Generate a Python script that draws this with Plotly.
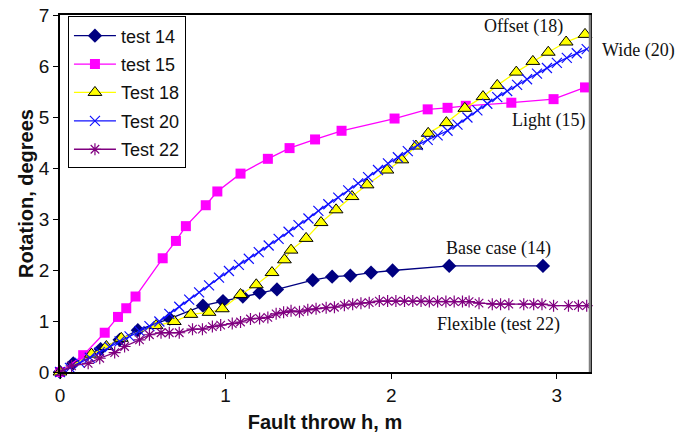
import plotly.graph_objects as go

# Fault throw h (m) and rotation (degrees) for each test
t14_x = [0, 0.08, 0.245, 0.36, 0.47, 0.663, 0.863, 0.984, 1.104, 1.205, 1.31, 1.526, 1.643, 1.753, 1.878, 2.008, 2.35, 2.916]
t14_y = [0, 0.17, 0.45, 0.63, 0.82, 1.045, 1.30, 1.39, 1.48, 1.555, 1.62, 1.80, 1.87, 1.89, 1.95, 1.99, 2.08, 2.08]

t15_x = [0, 0.14, 0.27, 0.35, 0.40, 0.456, 0.62, 0.70, 0.76, 0.88, 0.95, 1.09, 1.255, 1.386, 1.54, 1.70, 2.02, 2.22, 2.34, 2.45, 2.725, 2.98, 3.17]
t15_y = [0, 0.33, 0.77, 1.08, 1.25, 1.48, 2.23, 2.57, 2.86, 3.27, 3.54, 3.89, 4.18, 4.39, 4.56, 4.73, 4.97, 5.15, 5.18, 5.22, 5.28, 5.35, 5.58]

t18_x = [0, 0.19, 0.28, 0.37, 0.58, 0.69, 0.79, 0.90, 0.98, 1.09, 1.185, 1.28, 1.355, 1.395, 1.486, 1.576, 1.667, 1.763,
         1.854, 1.974, 2.064, 2.149, 2.223, 2.333, 2.444, 2.554, 2.64, 2.755, 2.855, 2.948, 3.056, 3.17]
t18_y = [0, 0.35, 0.50, 0.66, 0.91, 0.99, 1.13, 1.17, 1.24, 1.52, 1.71, 1.95, 2.20, 2.39, 2.62, 2.93, 3.18, 3.44,
         3.67, 3.96, 4.16, 4.43, 4.68, 4.89, 5.17, 5.40, 5.62, 5.88, 6.09, 6.27, 6.47, 6.62]

t20_x = [0, 0.06, 0.12, 0.18, 0.24, 0.30, 0.36, 0.42, 0.48, 0.54, 0.60, 0.66, 0.72, 0.78, 0.84, 0.90, 0.96, 1.02,
         1.08, 1.14, 1.20, 1.26, 1.32, 1.38, 1.44, 1.50, 1.56, 1.62, 1.68, 1.74, 1.80, 1.86, 1.92, 1.98, 2.04, 2.10,
         2.16, 2.22, 2.28, 2.34, 2.40, 2.46, 2.52, 2.58, 2.64, 2.70, 2.76, 2.82, 2.88, 2.94, 3.00, 3.06, 3.12, 3.18]
t20_y = [0, 0.08, 0.18, 0.28, 0.39, 0.49, 0.60, 0.70, 0.80, 0.90, 0.99, 1.14, 1.28, 1.42, 1.56, 1.70, 1.85, 1.98,
         2.10, 2.22, 2.35, 2.48, 2.61, 2.75, 2.88, 3.01, 3.16, 3.29, 3.42, 3.56, 3.70, 3.82, 3.96, 4.09, 4.21, 4.33,
         4.45, 4.55, 4.64, 4.73, 4.85, 4.99, 5.13, 5.26, 5.39, 5.51, 5.63, 5.74, 5.85, 5.96, 6.06, 6.16, 6.25, 6.33]

t22_x = [0, 0.07, 0.17, 0.24, 0.33, 0.39, 0.48, 0.54, 0.61, 0.66, 0.72, 0.80, 0.86, 0.92, 0.97, 1.04, 1.09, 1.15,
         1.205, 1.255, 1.305, 1.35, 1.395, 1.446, 1.496, 1.546, 1.607, 1.657, 1.717, 1.767, 1.817, 1.867, 1.928,
         1.978, 2.028, 2.08, 2.13, 2.18, 2.23, 2.28, 2.33, 2.38, 2.43, 2.47, 2.53, 2.61, 2.66, 2.71, 2.80, 2.86,
         2.91, 2.98, 3.07, 3.13, 3.18]
t22_y = [0, 0.12, 0.17, 0.27, 0.38, 0.50, 0.63, 0.73, 0.77, 0.77, 0.77, 0.84, 0.84, 0.89, 0.92, 0.95, 0.98, 1.04,
         1.05, 1.07, 1.14, 1.17, 1.20, 1.18, 1.22, 1.24, 1.26, 1.27, 1.31, 1.33, 1.35, 1.36, 1.39,
         1.39, 1.39, 1.39, 1.39, 1.39, 1.38, 1.38, 1.38, 1.38, 1.38, 1.38, 1.35, 1.33, 1.33, 1.33, 1.33, 1.33,
         1.33, 1.30, 1.30, 1.30, 1.30]

x_ticks = [0, 1, 2, 3]
y_ticks = [0, 1, 2, 3, 4, 5, 6, 7]
X_MAX = 3.2
Y_MAX = 7

# Curve labels: (text, x, y) in data units
curve_labels = [
    ("Offset (18)", 2.80, 6.78),
    ("Wide (20)", 3.49, 6.30),
    ("Light (15)", 2.95, 4.94),
    ("Base case (14)", 2.65, 2.42),
    ("Flexible (test 22)", 2.65, 0.94),
]

series = [
    dict(name="test 14", x=t14_x, y=t14_y, color="#000080", symbol="diamond", size=11, mcolor="#000080", mline="#000080", mlw=0),
    dict(name="test 15", x=t15_x, y=t15_y, color="#FF00FF", symbol="square", size=10, mcolor="#FF00FF", mline="#FF00FF", mlw=0),
    dict(name="Test 18", x=t18_x, y=t18_y, color="#FFFF00", symbol="triangle-up", size=12, mcolor="#FFFF00", mline="#000000", mlw=1),
    dict(name="Test 20", x=t20_x, y=t20_y, color="#1010FF", symbol="x-thin-open", size=10, mcolor="#1010FF", mline="#1010FF", mlw=1.2),
    dict(name="Test 22", x=t22_x, y=t22_y, color="#800080", symbol="asterisk-open", size=10, mcolor="#800080", mline="#800080", mlw=1.2),
]

fig = go.Figure()
for s in series:
    fig.add_trace(go.Scatter(
        x=s["x"], y=s["y"], name=s["name"], mode="lines+markers",
        legendgroup=s["name"],
        line=dict(color=s["color"], width=1.3),
        marker=dict(symbol=s["symbol"], size=s["size"], color=s["mcolor"],
                    line=dict(color=s["mline"], width=s["mlw"])),
        cliponaxis=False,
    ))

# labels are placed in paper coordinates so the one right of the frame still shows
for text, x, y in curve_labels:
    fig.add_annotation(x=x / X_MAX, y=y / Y_MAX, xref="paper", yref="paper", text=text, showarrow=False,
                       xanchor="center", yanchor="middle",
                       font=dict(family="Liberation Serif", size=18, color="#111111"))

axis_font = dict(family="Liberation Sans", size=19, color="#111111")
title_font = dict(family="Liberation Sans", size=20, color="#111111")
fig.update_layout(
    width=678, height=435,
    margin=dict(l=60, r=88, t=15, b=63),
    paper_bgcolor="white", plot_bgcolor="white",
    font=axis_font,
    showlegend=True,
    legend=dict(x=0.015, y=0.996, xanchor="left", yanchor="top",
                bordercolor="#000000", borderwidth=1, bgcolor="white",
                traceorder="grouped", tracegroupgap=2, itemwidth=42,
                font=dict(family="Liberation Sans", size=18, color="#111111")),
    xaxis=dict(range=[0, X_MAX], tickvals=x_ticks, ticks="outside", ticklen=5, tickcolor="#000000",
               showline=True, linecolor="#000000", linewidth=1.5, mirror=True, showgrid=False,
               zeroline=False, tickfont=axis_font, ticklabelstandoff=0, automargin=False,
               title=dict(text="<b>Fault throw h, m</b>", font=title_font, standoff=10)),
    yaxis=dict(range=[0, Y_MAX], tickvals=y_ticks, ticks="outside", ticklen=5, tickcolor="#000000",
               showline=True, linecolor="#000000", linewidth=1.5, mirror=True, showgrid=False,
               zeroline=False, tickfont=axis_font, automargin=False,
               title=dict(text="<b>Rotation, degrees</b>", font=title_font, standoff=0)),
)

# grey right-hand frame edge
fig.add_shape(type="line", xref="paper", yref="paper", x0=1, x1=1, y0=0, y1=1,
              line=dict(color="#808080", width=2.5))

fig.write_html("out.html")
